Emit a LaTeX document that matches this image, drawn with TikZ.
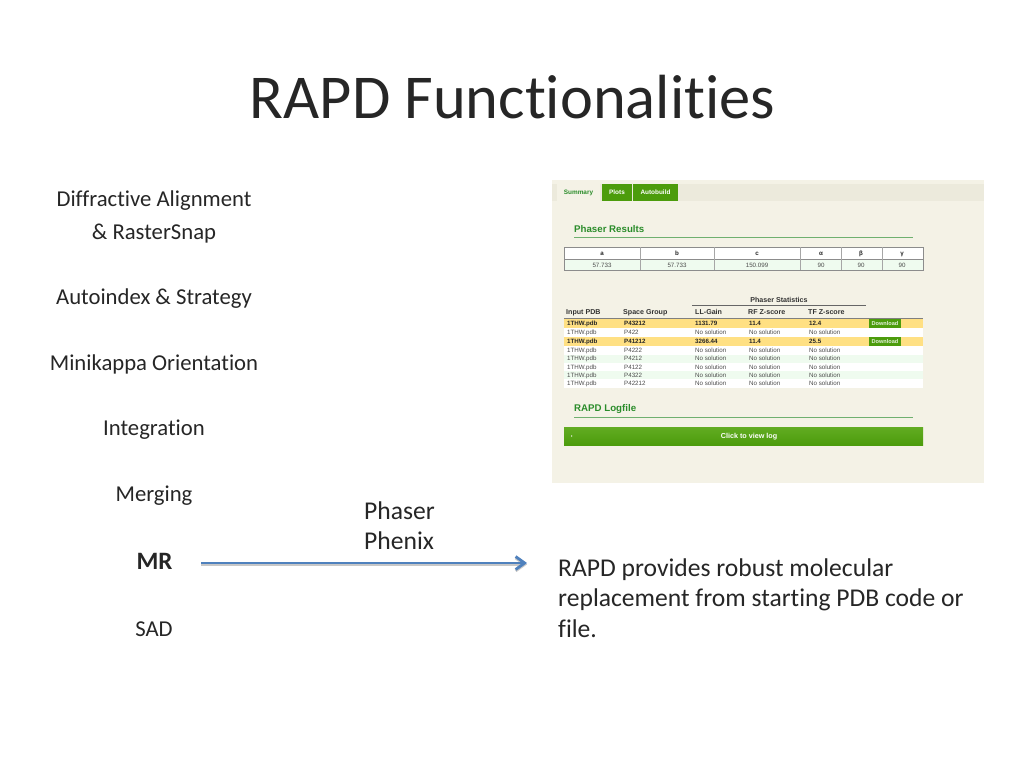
\documentclass[tikz,border=0pt]{standalone}
\usepackage{fontspec}
\usetikzlibrary{arrows.meta}
\setmainfont[Ligatures=NoCommon]{Carlito}
\newfontfamily\shotfont{Liberation Sans}
\definecolor{panelbg}{HTML}{F4F2E6}
\definecolor{tabbg}{HTML}{ECEADC}
\definecolor{tabgreen}{HTML}{4C9C0C}
\definecolor{tabtop}{HTML}{62AC22}
\definecolor{headgreen}{HTML}{2A8C2A}
\definecolor{rulegreen}{HTML}{6FB06F}
\definecolor{rowyellow}{HTML}{FFE083}
\definecolor{rowmint}{HTML}{EFFBEF}
\definecolor{arrowblue}{HTML}{4F81BD}
\tikzset{
  menu/.style={font=\fontsize{22.7}{24}\selectfont,text=black!85,inner sep=0pt,anchor=center},
  body/.style={font=\fontsize{25.6}{30.4}\selectfont,text=black!85,inner sep=0pt,anchor=west},
  shot/.style={font=\shotfont\fontsize{6.2}{7}\selectfont,text=black!70,inner sep=0pt,anchor=west,text height=5.7pt,text depth=1.3pt},
  shotb/.style={shot,font=\shotfont\bfseries\fontsize{6.2}{7}\selectfont,text=black!85},
  colhead/.style={shot,font=\shotfont\bfseries\fontsize{7.1}{8}\selectfont,text=black!80},
  head/.style={font=\shotfont\bfseries\fontsize{9.7}{11}\selectfont,text=headgreen,inner sep=0pt,anchor=west,yshift=-1pt},
  tabtext/.style={font=\shotfont\bfseries\fontsize{6.4}{7}\selectfont,text=white,inner sep=0pt,text height=5.7pt,text depth=1.3pt},
}
\begin{document}
\begin{tikzpicture}[x=1pt,y=-1pt]
\useasboundingbox (0,0) rectangle (1024,768);
\fill[white] (0,0) rectangle (1024,768);

\node[font=\fontsize{62.4}{70}\selectfont,text=black!85,inner sep=0pt] (title) at (512.5,97) {RAPD Functionalities};

% left column
\node[menu] (align) at (154,200.5) {Diffractive Alignment};
\node[menu] (raster) at (154,233.5) {\& RasterSnap};
\node[menu] (index) at (154,299) {Autoindex \& Strategy};
\node[menu] (kappa) at (154,364.5) {Minikappa Orientation};
\node[menu] (integ) at (154,430) {Integration};
\node[menu] (merge) at (154,495.5) {Merging};
\node[menu,font=\bfseries\fontsize{25}{26}\selectfont] (mr) at (154.5,561.5) {MR};
\node[menu] (sad) at (154,629) {SAD};

\node[body] (phaser) at (364,510.5) {Phaser};
\node[body] (phenix) at (364,541) {Phenix};
\coordinate (arrowstart) at (201,563);
\coordinate (arrowend) at (527,563);
\draw[black!22,line width=2.8pt,-{Straight Barb[length=9pt,width=13pt]}] ([yshift=-1.4pt]arrowstart) -- ([yshift=-1.4pt]arrowend);
\draw[arrowblue,line width=2.8pt,-{Straight Barb[length=9pt,width=13pt]}] (arrowstart) -- (arrowend);

\node[body,align=left] (desc) at (558,598) {RAPD provides robust molecular\\replacement from starting PDB code or\\file.};

% screenshot
\fill[panelbg] (552,180) rectangle (984,483);
\fill[tabbg] (552,184) rectangle (984,201);
\fill[panelbg] (557,184) rectangle (600,201);
\fill[tabgreen] (602,184) rectangle (632,201);
\fill[tabgreen] (633,184) rectangle (678,201);
\node[tabtext,text=headgreen] (tabsum) at (578.5,192.5) {Summary};
\node[tabtext] (tabplots) at (617,192.5) {Plots};
\node[tabtext] (tabbuild) at (655.5,192.5) {Autobuild};

\node[head] (reshead) at (574,228.5) {Phaser Results};
\draw[rulegreen,line width=1pt] (574,237) -- (913,237);

% cell table
\fill[white] (564,247) rectangle (923,259);
\fill[rowmint] (564,259) rectangle (923,270);
\draw[black!45,line width=0.6pt] (564,247) rectangle (923,270);
\draw[black!45,line width=0.6pt] (564,259) -- (923,259);
\foreach \x in {640,714,800,841,882}
  \draw[black!35,line width=0.5pt] (\x,247) -- (\x,270);
\foreach \x/\a/\v [count=\i] in {602/a/57.733,677/b/57.733,757/c/150.099,821/α/90,861/β/90,902/γ/90}{
  \node[shotb,anchor=center] (cellh\i) at (\x,253.5) {\a};
  \node[shot,anchor=center] (cellv\i) at (\x,265) {\v};
}

% statistics table
\fill[white] (564,318) rectangle (923,388);
\fill[rowyellow] (564,318) rectangle (923,328);
\fill[rowyellow] (564,337) rectangle (923,346);
\foreach \y in {354.5,371}
  \fill[rowmint] (564,\y) rectangle (923,\y+8.3);
\node[colhead,anchor=center] (stats) at (779,300) {Phaser Statistics};
\draw[black!60,line width=0.5pt] (692,305.5) -- (866,305.5);
\draw[black!50,line width=0.7pt] (564,318) -- (923,318);
\foreach \x/\t [count=\i] in {566/Input PDB,623/Space Group,695/LL-Gain,748/RF Z-score,808/TF Z-score}
  \node[colhead] (colh\i) at (\x,312) {\t};
\foreach \y/\g [count=\i] in {332/P422,350/P4222,358.7/P4212,367/P4122,375/P4322,383.5/P42212}{
  \node[shot] (rowa\i) at (567,\y) {1THW.pdb};
  \node[shot] (rowb\i) at (624,\y) {\g};
  \node[shot] (rowc\i) at (695,\y) {No solution};
  \node[shot] (rowd\i) at (749,\y) {No solution};
  \node[shot] (rowe\i) at (809,\y) {No solution};
}
\foreach \y/\g/\l/\t [count=\i] in {323/P43212/1131.79/12.4,341.5/P41212/3266.44/25.5}{
  \node[shotb] (besta\i) at (567,\y) {1THW.pdb};
  \node[shotb] (bestb\i) at (624,\y) {\g};
  \node[shotb] (bestc\i) at (695,\y) {\l};
  \node[shotb] (bestd\i) at (749,\y) {11.4};
  \node[shotb] (beste\i) at (809,\y) {\t};
  \fill[tabgreen] (869,\y-4.5) rectangle (901,\y+4.5);
  \node[tabtext,font=\shotfont\bfseries\fontsize{5.6}{6}\selectfont,text=white!85!tabgreen] (down\i) at (885,\y) {Download};
}

\node[head] (loghead) at (574,408.5) {RAPD Logfile};
\draw[rulegreen,line width=1pt] (574,417) -- (913,417);
\path[top color=tabtop,bottom color=tabgreen] (564,427) rectangle (923,445);
\node[tabtext,font=\shotfont\bfseries\fontsize{7.2}{8}\selectfont] (logbar) at (749,436) {Click to view log};
\fill[white!70!tabgreen] (571,435) -- (572.5,436) -- (571,437) -- cycle;
\end{tikzpicture}
\end{document}
